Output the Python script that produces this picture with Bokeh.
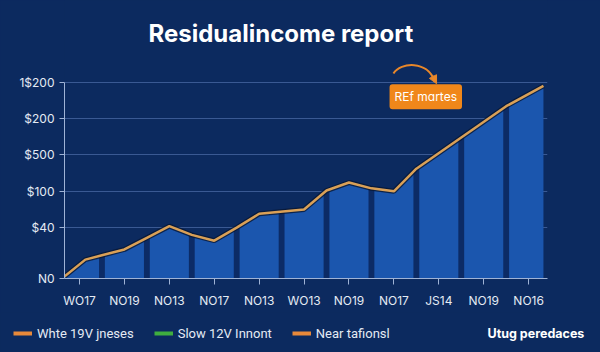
import numpy as np
from bokeh.plotting import figure
from bokeh.layouts import column
from bokeh.models import Label, Legend, LegendItem, FixedTicker, Arrow, NormalHead
from bokeh.embed import file_html
from bokeh.resources import INLINE

# ---- data ----
X_LABELS = ["WO17", "NO19", "NO13", "NO17", "NO13", "WO13", "NO19", "NO17", "JS14", "NO19", "NO16"]
Y_TICKS = [0, 70, 120, 170, 220, 270]
Y_LABELS = ["N0", "$40", "$100", "$500", "$200", "1$200"]
LINE_X = [-0.33, 0.13, 0.5, 1, 1.5, 2, 2.5, 3, 3.5, 4, 5, 5.5, 6, 6.5, 7, 7.5, 9.5, 10.33]
LINE_Y = [3, 26, 32, 40, 56, 72, 60, 52, 70, 89, 95, 121, 132, 124, 120, 151, 237, 265]
LEGEND_LABELS = ["Whte 19V jneses", "Slow 12V Innont", "Near tafionsl"]
LEGEND_COLORS = ["#e8893a", "#3fae3f", "#e8893a"]
NOTE = "REf mɑrtes"
SOURCE = "Utug peredaces"
TITLE = "Residualincome report"

BG = "#0c2a5f"
AREA = "#1b56ae"
STRIP = "#0c2b66"
LINE = "#d9a057"
TXT = "#e4eaf4"

p = figure(width=600, height=312, x_range=(-0.334, 10.42), y_range=(0, 382.4),
           output_backend="svg", toolbar_location=None,
           min_border_left=64, min_border_right=53, min_border_top=0, min_border_bottom=34,
           background_fill_color=BG, border_fill_color=BG, outline_line_color=None,
           styles={"background-color": BG})
p.frame_align = False

p.varea(x=LINE_X, y1=0, y2=LINE_Y, fill_color=AREA)
mids = np.arange(len(X_LABELS) - 1) + 0.5
tops = np.interp(mids, LINE_X, LINE_Y)
p.vbar(x=mids, width=0.13, top=tops, bottom=0, fill_color=STRIP, line_color=None)
p.line(LINE_X, LINE_Y, line_color="#081733", line_width=5, line_alpha=0.8)
p.line(LINE_X, LINE_Y, line_color=LINE, line_width=2.5)

# axes
p.xaxis.ticker = FixedTicker(ticks=list(range(len(X_LABELS))))
p.xaxis.major_label_overrides = {i: s for i, s in enumerate(X_LABELS)}
p.yaxis.ticker = FixedTicker(ticks=Y_TICKS)
p.yaxis.major_label_overrides = {t: s for t, s in zip(Y_TICKS, Y_LABELS)}
p.yaxis.bounds = (Y_TICKS[0], Y_TICKS[-1])
for ax in (p.xaxis, p.yaxis):
    ax.axis_line_color = "#9fb3d6"
    ax.major_tick_line_color = "#9fb3d6"
    ax.minor_tick_line_color = None
    ax.major_tick_in = 0
    ax.major_label_text_color = TXT
    ax.major_label_text_font = "Inter"
    ax.major_label_text_font_size = "12px"
p.xaxis.major_tick_out = 6
p.yaxis.major_tick_out = 5
p.xaxis.major_label_standoff = 8
p.yaxis.major_label_standoff = 5
p.xgrid.visible = False
p.ygrid.grid_line_color = "#4665a0"
p.ygrid.grid_line_alpha = 0.8

# title
p.add_layout(Label(x=84, y=245, x_units="screen", y_units="screen", text=TITLE,
                   text_font="Inter", text_font_style="bold", text_font_size="24px",
                   text_color="white", text_baseline="middle"))

# note box with arrow
p.add_layout(Label(x=7.71, y=250, text=NOTE, text_font="Inter", text_font_size="12px",
                   text_color="white", text_align="center", text_baseline="middle",
                   background_fill_color="#f0871a", padding=5, border_radius=3))
p.bezier(x0=[6.99], y0=[282], x1=[7.9], y1=[272], cx0=[7.15], cy0=[298], cx1=[7.75], cy1=[300],
         line_color="#e8872a", line_width=2)
p.add_layout(Arrow(x_start=7.86, y_start=279, x_end=7.95, y_end=268, line_color="#e8872a",
                   line_width=2, end=NormalHead(size=8, fill_color="#e8872a", line_color="#e8872a")))

# ---- bottom strip: legend + source ----
q = figure(width=600, height=40, x_range=(0, 600), y_range=(0, 40),
           output_backend="svg", toolbar_location=None, x_axis_type=None, y_axis_type=None,
           min_border=0, background_fill_color=BG, border_fill_color=BG, outline_line_color=None,
           styles={"background-color": BG})
q.frame_align = False
q.grid.visible = False
items = []
for lab, col in zip(LEGEND_LABELS, LEGEND_COLORS):
    r = q.line(x=[-50, -40], y=[-50, -50], line_color=col, line_width=4)
    items.append(LegendItem(label=lab, renderers=[r]))
leg = Legend(items=items, orientation="horizontal", location=(13, 9),
             background_fill_alpha=0, border_line_color=None, padding=0, margin=0,
             spacing=20, glyph_width=19, label_standoff=5,
             label_text_color=TXT, label_text_font="Roboto", label_text_font_size="13px")
q.add_layout(leg)
q.add_layout(Label(x=487, y=19, text=SOURCE, text_font="Inter", text_font_style="bold",
                   text_font_size="12.5px", text_color="white", text_baseline="middle"))

layout = column(p, q, spacing=0, styles={"background-color": BG})
open("out.html", "w").write(file_html(layout, INLINE))
